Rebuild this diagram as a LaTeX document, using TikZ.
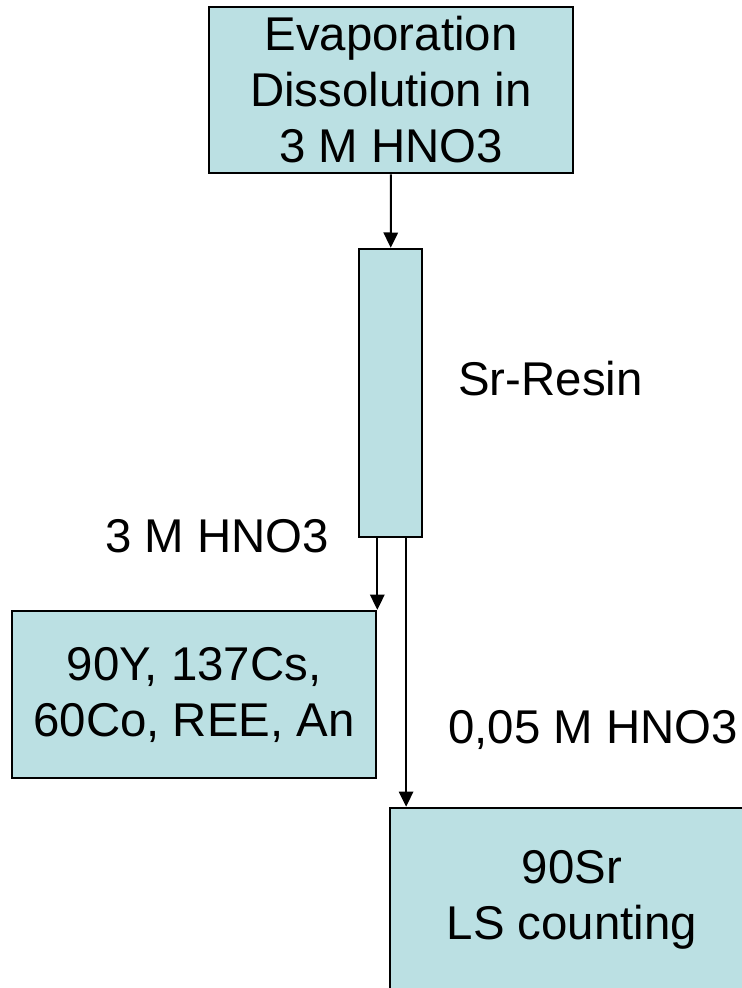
\documentclass[tikz,border=0pt]{standalone}
\usepackage{fontspec}
\setmainfont{Liberation Sans}
\usetikzlibrary{arrows.meta,positioning}
\definecolor{boxfill}{RGB}{187,224,227}

\begin{document}
\begin{tikzpicture}[x=0.025cm,y=-0.025cm,>={Triangle[length=5.5mm,width=4.6mm]}]
\tikzset{
  stage/.style={draw=black,line width=1.8pt,fill=boxfill,minimum width=9.1cm,align=center,inner sep=0pt,font=\fontsize{33.7}{39.8}\selectfont},
  flow/.style={->,line width=1.4pt,>={Triangle[length=0.38cm,width=0.36cm]}},
  tag/.style={anchor=base west,inner sep=0pt,font=\fontsize{33.7}{39.8}\selectfont}
}
\useasboundingbox (0,0) rectangle (742,988);
\node[stage,minimum height=4.15cm] (evap) at (391,90) {Evaporation\\Dissolution in\hspace*{0.28em}\\3 M HNO3};
\node[draw=black,line width=1.8pt,fill=boxfill,minimum width=1.57cm,minimum height=7.2cm,inner sep=0pt] (resin) at (390.5,393) {};
\node[stage,minimum height=4.17cm] (waste) at (194,694.5) {90Y, 137Cs,\\60Co, REE, An};
\node[stage,minimum height=4.6cm] (sr) at (572,900) {90Sr\\LS counting};
\node[tag] (lresin) at (458,395) {Sr-Resin};
\node[tag] (lload) at (105,552) {3 M HNO3};
\node[tag] (lelute) at (448,743) {0,05 M HNO3};
\draw[flow] (evap) -- (resin);
\draw[flow] (resin.south -| waste.north east) -- (waste.north east);
\draw[flow] ([xshift=0.39cm]resin.south) -- ([xshift=0.39cm]resin.south |- sr.north);
\end{tikzpicture}
\end{document}
